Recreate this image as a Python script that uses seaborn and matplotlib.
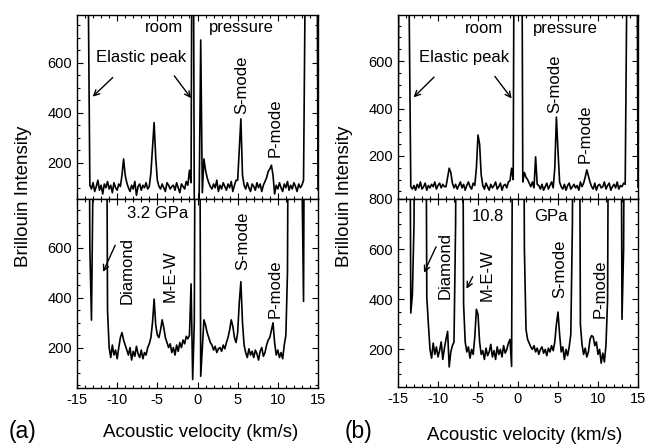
import matplotlib
matplotlib.use("Agg")
import matplotlib.pyplot as plt
from matplotlib.ticker import MultipleLocator
import numpy as np
import pandas as pd
import seaborn as sns

# velocity channels (km/s), one every 0.2 from -15 to 15
velocity = np.round(np.linspace(-15, 15, 151), 1)

# panel (a) top: room pressure
room_a = [
    2000, 2000, 2000, 2000, 2000, 2000, 2000, 900, 110, 95,
    120, 85, 105, 130, 90, 110, 75, 115, 100, 125,
    95, 110, 80, 120, 100, 90, 115, 105, 150, 215,
    150, 120, 100, 85, 110, 95, 125, 70, 105, 115,
    90, 110, 100, 120, 95, 105, 160, 260, 360, 220,
    130, 105, 95, 115, 100, 85, 120, 110, 95, 105,
    110, 90, 120, 100, 80, 115, 105, 95, 125, 110,
    170, 120, 2000, 30, 20, 20, 40, 690, 80, 215,
    170, 140, 120, 105, 95, 115, 100, 130, 85, 110,
    95, 120, 105, 90, 115, 100, 125, 85, 110, 130,
    130, 250, 375, 150, 110, 95, 120, 100, 85, 115,
    105, 90, 120, 100, 115, 85, 110, 125, 140, 165,
    175, 190, 150, 75, 110, 95, 120, 100, 85, 115,
    100, 125, 90, 110, 95, 120, 105, 85, 115, 100,
    110, 130, 900, 2000, 2000, 2000, 2000, 2000, 2000, 2000,
    90,
]

# panel (a) bottom: 3.2 GPa
high_a = [
    2000, 2000, 2000, 2000, 2000, 2000, 2000, 2000, 600, 310,
    900, 2000, 2000, 2000, 2000, 2000, 2000, 2000, 2000, 350,
    200, 160, 210, 170, 190, 155, 200, 240, 260, 230,
    210, 190, 170, 200, 150, 185, 165, 205, 175, 160,
    190, 155, 180, 170, 200, 215, 240, 300, 394, 290,
    250, 240, 270, 311, 280, 240, 220, 200, 215, 180,
    200, 170, 210, 185, 220, 200, 230, 215, 245, 235,
    250, 455, 72, 300, 2000, 2000, 2000, 85, 200, 311,
    290, 260, 240, 220, 210, 190, 205, 180, 195, 200,
    185, 210, 195, 220, 240, 270, 311, 285, 240, 220,
    260, 380, 464, 300, 210, 180, 160, 195, 170, 185,
    160, 190, 175, 150, 185, 200, 165, 180, 210, 230,
    240, 270, 299, 220, 170, 190, 160, 180, 155, 210,
    250, 500, 2000, 2000, 2000, 2000, 2000, 2000, 2000, 2000,
    900, 385, 2000, 2000, 2000, 2000, 2000, 2000, 2000, 2000,
    2000,
]

# panel (b) top: room pressure
room_b = [
    120, 2000, 2000, 2000, 2000, 2000, 2000, 800, 70, 60,
    75, 55, 80, 65, 90, 60, 70, 85, 55, 75,
    65, 80, 70, 90, 60, 75, 85, 65, 80, 70,
    70, 110, 148, 130, 85, 65, 80, 60, 75, 90,
    65, 80, 55, 75, 90, 70, 60, 85, 75, 150,
    288, 250, 120, 75, 60, 85, 70, 55, 80, 65,
    75, 90, 60, 70, 85, 55, 75, 80, 65, 90,
    95, 148, 100, 2000, 2000, 2000, 2000, 2000, 90, 130,
    110, 100, 85, 70, 90, 65, 196, 80, 75, 60,
    80, 55, 70, 85, 60, 75, 90, 65, 150, 364,
    220, 90, 70, 60, 80, 55, 75, 85, 60, 70,
    80, 65, 75, 55, 90, 70, 85, 110, 141, 115,
    90, 70, 60, 85, 55, 75, 80, 65, 70, 90,
    60, 75, 85, 55, 70, 80, 65, 90, 60, 75,
    70, 85, 80, 900, 2000, 2000, 2000, 2000, 2000, 2000,
    68,
]

# panel (b) bottom: 10.8 GPa
high_b = [
    2000, 2000, 2000, 2000, 2000, 2000, 2000, 2000, 345, 420,
    700, 2000, 2000, 2000, 2000, 2000, 2000, 2000, 408, 300,
    200, 165, 225, 180, 210, 170, 195, 230, 160, 205,
    240, 272, 130, 190, 215, 230, 700, 2000, 2000, 2000,
    2000, 380, 230, 190, 210, 165, 200, 180, 250, 360,
    340, 230, 180, 195, 160, 205, 175, 190, 220, 170,
    195, 160, 210, 180, 200, 170, 215, 185, 200, 225,
    240, 132, 2000, 2000, 2000, 2000, 2000, 2000, 2000, 600,
    280, 240, 225, 210, 200, 215, 190, 205, 180, 200,
    210, 185, 200, 175, 205, 190, 215, 195, 230, 300,
    349, 260, 190, 210, 160, 200, 175, 210, 260, 700,
    2000, 2000, 2000, 2000, 300, 220, 180, 205, 170, 190,
    240, 255, 250, 215, 230, 180, 200, 145, 185, 150,
    220, 400, 2000, 2000, 2000, 2000, 2000, 2000, 2000, 2000,
    320, 600, 2000, 2000, 2000, 2000, 2000, 2000, 2000, 2000,
    2000,
]

sns.set_style("ticks")
plt.rcParams["font.family"] = ["Liberation Sans", "DejaVu Sans"]
plt.rcParams["axes.unicode_minus"] = False
plt.rcParams["text.color"] = "black"

fig = plt.figure(figsize=(6.47, 4.44), dpi=100)

W, H = 647.0, 444.0


def make_ax(x0, x1, ytop, ybot):
    return fig.add_axes([x0 / W, 1 - ybot / H, (x1 - x0) / W, (ybot - ytop) / H])


ax_at = make_ax(77, 318, 15, 199)
ax_ab = make_ax(77, 318, 199, 388)
ax_bt = make_ax(398, 638, 15, 199)
ax_bb = make_ax(398, 638, 199, 387)

panels = [
    (ax_at, room_a, (55, 790), [200, 400, 600]),
    (ax_ab, high_a, (38, 795), [200, 400, 600]),
    (ax_bt, room_b, (18, 795), [200, 400, 600]),
    (ax_bb, high_b, (50, 800), [200, 400, 600, 800]),
]

for ax, vals, ylim, yt in panels:
    df = pd.DataFrame({"v": velocity, "I": vals})
    sns.lineplot(data=df, x="v", y="I", ax=ax, color="black", lw=1.2)
    ax.set_xlim(-15, 15)
    ax.set_ylim(*ylim)
    ax.set_yticks(yt)
    ax.xaxis.set_major_locator(MultipleLocator(5))
    ax.xaxis.set_minor_locator(MultipleLocator(1))
    ax.yaxis.set_minor_locator(MultipleLocator(50))
    ax.tick_params(which="both", direction="in", top=True, right=True,
                   labelsize=10.5, width=0.8, colors="black")
    ax.tick_params(which="major", length=4)
    ax.tick_params(which="minor", length=2)
    ax.set_xlabel("")
    ax.set_ylabel("")
    for s in ax.spines.values():
        s.set_linewidth(1.0)
        s.set_color("black")

for ax in (ax_at, ax_bt):
    ax.tick_params(labelbottom=False)

fs = 12
arrow = dict(arrowstyle="->", color="black", lw=1)
# (a) top
ax_at.text(-4.2, 740, "room", fontsize=fs, ha="center", va="center")
ax_at.text(5.5, 740, "pressure", fontsize=fs, ha="center", va="center")
ax_at.text(-7.0, 620, "Elastic peak", fontsize=fs, ha="center", va="center")
ax_at.annotate("", xy=(-13.3, 456), xytext=(-10.3, 548), arrowprops=arrow)
ax_at.annotate("", xy=(-0.6, 449), xytext=(-3.1, 556), arrowprops=arrow)
ax_at.text(5.5, 395, "S-mode", fontsize=fs, rotation=90, ha="center", va="bottom")
ax_at.text(9.7, 222, "P-mode", fontsize=fs, rotation=90, ha="center", va="bottom")

# (a) bottom
ax_ab.text(-5.0, 736, "3.2 GPa", fontsize=fs, ha="center", va="center")
ax_ab.text(-8.8, 373, "Diamond", fontsize=fs, rotation=90, ha="center", va="bottom")
ax_ab.text(-3.4, 381, "M-E-W", fontsize=fs, rotation=90, ha="center", va="bottom")
ax_ab.text(5.6, 510, "S-mode", fontsize=fs, rotation=90, ha="center", va="bottom")
ax_ab.text(9.7, 320, "P-mode", fontsize=fs, rotation=90, ha="center", va="bottom")
ax_ab.annotate("", xy=(-11.9, 493), xytext=(-10.1, 620), arrowprops=arrow)

# (b) top
ax_bt.text(-4.25, 739, "room", fontsize=fs, ha="center", va="center")
ax_bt.text(5.9, 739, "pressure", fontsize=fs, ha="center", va="center")
ax_bt.text(-6.75, 617, "Elastic peak", fontsize=fs, ha="center", va="center")
ax_bt.annotate("", xy=(-13.3, 439), xytext=(-10.25, 541), arrowprops=arrow)
ax_bt.annotate("", xy=(-0.58, 433), xytext=(-3.1, 545), arrowprops=arrow)
ax_bt.text(4.6, 381, "S-mode", fontsize=fs, rotation=90, ha="center", va="bottom")
ax_bt.text(8.4, 170, "P-mode", fontsize=fs, rotation=90, ha="center", va="bottom")

# (b) bottom
ax_bb.text(-3.75, 732, "10.8", fontsize=fs, ha="center", va="center")
ax_bb.text(4.1, 732, "GPa", fontsize=fs, ha="center", va="center")
ax_bb.text(-9.1, 400, "Diamond", fontsize=fs, rotation=90, ha="center", va="bottom")
ax_bb.text(-3.9, 392, "M-E-W", fontsize=fs, rotation=90, ha="center", va="bottom")
ax_bb.text(5.25, 405, "S-mode", fontsize=fs, rotation=90, ha="center", va="bottom")
ax_bb.text(10.25, 325, "P-mode", fontsize=fs, rotation=90, ha="center", va="bottom")
ax_bb.annotate("", xy=(-11.9, 496), xytext=(-10.1, 619), arrowprops=arrow)
ax_bb.annotate("", xy=(-6.6, 432), xytext=(-5.5, 500), arrowprops=arrow)

# axis labels and panel tags
lab = 13.5
fig.text(24 / W, 1 - 196 / H, "Brillouin Intensity", fontsize=lab, rotation=90,
         ha="center", va="center")
fig.text(344 / W, 1 - 196 / H, "Brillouin Intensity", fontsize=lab, rotation=90,
         ha="center", va="center")
fig.text(201 / W, 1 - 432 / H, "Acoustic velocity (km/s)", fontsize=lab,
         ha="center", va="center")
fig.text(525 / W, 1 - 435 / H, "Acoustic velocity (km/s)", fontsize=lab,
         ha="center", va="center")
fig.text(23 / W, 1 - 431 / H, "(a)", fontsize=16.5, ha="center", va="center")
fig.text(358 / W, 1 - 431 / H, "(b)", fontsize=16.5, ha="center", va="center")

fig.savefig("out.png", dpi=100)
